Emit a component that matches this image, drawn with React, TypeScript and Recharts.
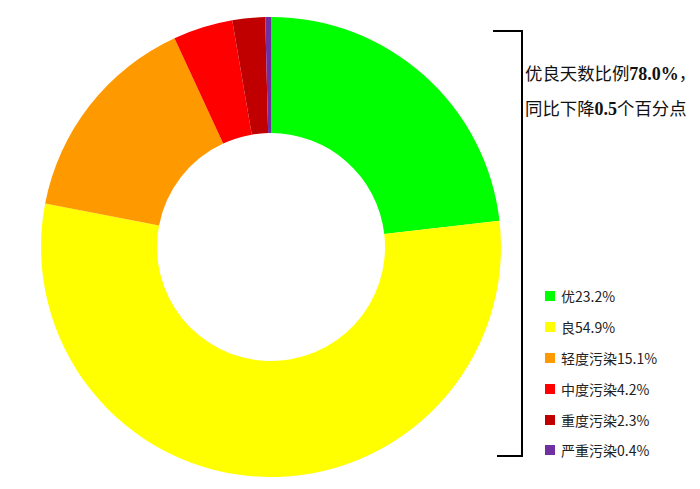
import React from "react";
import { PieChart, Pie, Cell, Legend } from "recharts";

const categories = ["优", "良", "轻度污染", "中度污染", "重度污染", "严重污染"];
const values = [23.2, 54.9, 15.1, 4.2, 2.3, 0.4];
const colors = ["#00ff00", "#ffff00", "#ff9900", "#ff0000", "#c00000", "#7030a0"];

const data = categories.map((name, i) => ({ name, value: values[i] }));

const renderLegend = () => (
  <div style={{ fontFamily: "'Noto Sans CJK SC', sans-serif", fontSize: 14, color: "#222" }}>
    {data.map((d, i) => (
      <div key={d.name} style={{ display: "flex", alignItems: "center", height: 30.8 }}>
        <span style={{ display: "inline-block", width: 10, height: 10, background: colors[i], marginRight: 6 }} />
        <span>{d.name}{d.value.toFixed(1)}%</span>
      </div>
    ))}
  </div>
);

export default function App() {
  return (
    <div style={{ position: "fixed", left: 0, top: 0, width: 700, height: 489, background: "#fff" }}>
      <PieChart width={700} height={489} margin={{ top: 0, right: 0, bottom: 0, left: 0 }}>
        <Pie
          data={data}
          dataKey="value"
          nameKey="name"
          cx={271}
          cy={247}
          innerRadius={114}
          outerRadius={230}
          startAngle={90}
          endAngle={-270}
          stroke="none"
          isAnimationActive={false}
        >
          {data.map((d, i) => (
            <Cell key={d.name} fill={colors[i]} />
          ))}
        </Pie>
        <Legend
          content={renderLegend}
          layout="vertical"
          wrapperStyle={{ position: "absolute", left: 545, top: 281, width: 150 }}
        />
      </PieChart>
      <svg width={700} height={489} style={{ position: "absolute", left: 0, top: 0, pointerEvents: "none" }}>
        <polyline points="493,31 522,31 522,456 497,456" fill="none" stroke="#000" strokeWidth={2} />
      </svg>
      <div
        style={{
          position: "absolute",
          left: 525,
          top: 55,
          fontFamily: "'Noto Sans CJK SC', sans-serif",
          fontSize: 17.4,
          color: "#111",
          whiteSpace: "nowrap",
        }}
      >
        <div style={{ height: 35, lineHeight: "35px" }}>
          优良天数比例<b style={{ fontFamily: "'Liberation Serif', serif", fontSize: 18 }}>78.0%</b>，
        </div>
        <div style={{ height: 35, lineHeight: "35px" }}>
          同比下降<b style={{ fontFamily: "'Liberation Serif', serif", fontSize: 18 }}>0.5</b>个百分点
        </div>
      </div>
    </div>
  );
}
